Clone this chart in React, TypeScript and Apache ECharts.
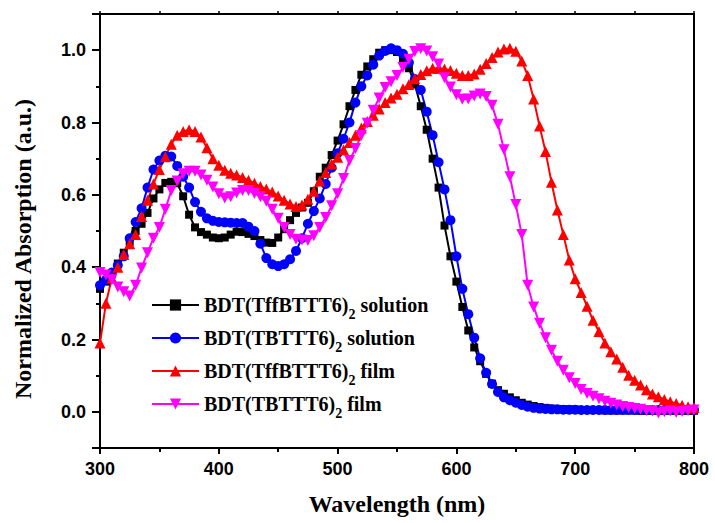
import React, { useEffect, useRef } from "react";
import * as echarts from "echarts";

// wavelength grid (nm), 5 nm steps from 300 to 800
const wavelengths: number[] = Array.from({ length: 101 }, (_, i) => 300 + 5 * i);

const seriesNames = [
  "BDT(TffBTTT6)2 solution",
  "BDT(TBTTT6)2 solution",
  "BDT(TffBTTT6)2 film",
  "BDT(TBTTT6)2 film",
];

const tffSolution = [
  0.34, 0.36, 0.38, 0.41, 0.44, 0.47, 0.50, 0.52, 0.55, 0.59,
  0.615, 0.633, 0.636, 0.632, 0.596, 0.545, 0.51, 0.497, 0.49, 0.482,
  0.48, 0.482, 0.49, 0.498, 0.497, 0.492, 0.486, 0.475, 0.468, 0.467,
  0.482, 0.505, 0.53, 0.55, 0.565, 0.578, 0.61, 0.65, 0.675, 0.71,
  0.75, 0.795, 0.845, 0.89, 0.932, 0.955, 0.975, 0.993, 1.0, 1.0,
  0.995, 0.975, 0.95, 0.905, 0.845, 0.78, 0.70, 0.62, 0.515, 0.43,
  0.36, 0.29, 0.225, 0.178, 0.14, 0.105, 0.078, 0.06, 0.05, 0.04,
  0.032, 0.025, 0.02, 0.016, 0.013, 0.011, 0.009, 0.008, 0.007, 0.006,
  0.006, 0.005, 0.005, 0.005, 0.005, 0.004, 0.004, 0.004, 0.004, 0.004,
  0.004, 0.003, 0.003, 0.003, 0.003, 0.003, 0.003, 0.003, 0.003, 0.003,
  0.003,
];

const tbSolution = [
  0.35, 0.365, 0.385, 0.405, 0.43, 0.48, 0.525, 0.563, 0.62, 0.67,
  0.695, 0.708, 0.706, 0.68, 0.65, 0.62, 0.58, 0.553, 0.535, 0.528,
  0.525, 0.524, 0.523, 0.522, 0.522, 0.512, 0.50, 0.465, 0.425, 0.408,
  0.403, 0.408, 0.422, 0.445, 0.48, 0.52, 0.555, 0.59, 0.63, 0.675,
  0.715, 0.755, 0.80, 0.855, 0.9, 0.93, 0.96, 0.985, 0.998, 1.005,
  1.0, 0.99, 0.966, 0.92, 0.89, 0.83, 0.765, 0.69, 0.615, 0.53,
  0.43, 0.34, 0.27, 0.205, 0.148, 0.108, 0.077, 0.055, 0.04, 0.032,
  0.025, 0.019, 0.014, 0.011, 0.009, 0.008, 0.007, 0.007, 0.006, 0.006,
  0.006, 0.005, 0.005, 0.005, 0.005, 0.005, 0.005, 0.005, 0.005, 0.005,
  0.005, 0.005, 0.005, 0.005, 0.005, 0.005, 0.005, 0.006, 0.006, 0.006,
  0.006,
];

const tffFilm = [
  0.19, 0.30, 0.37, 0.40, 0.435, 0.465, 0.49, 0.54, 0.585, 0.63,
  0.67, 0.705, 0.74, 0.765, 0.775, 0.78, 0.775, 0.76, 0.73, 0.70,
  0.682, 0.668, 0.66, 0.655, 0.648, 0.64, 0.632, 0.623, 0.616, 0.608,
  0.597, 0.585, 0.575, 0.568, 0.572, 0.588, 0.61, 0.638, 0.662, 0.685,
  0.704, 0.725, 0.745, 0.765, 0.785, 0.803, 0.82, 0.837, 0.855, 0.868,
  0.878, 0.893, 0.905, 0.921, 0.933, 0.943, 0.95, 0.95, 0.948, 0.944,
  0.936, 0.93, 0.93, 0.934, 0.947, 0.963, 0.98, 0.995, 1.003, 1.005,
  0.997, 0.97, 0.93, 0.865, 0.79, 0.72, 0.635, 0.558, 0.49, 0.42,
  0.368, 0.33, 0.292, 0.253, 0.222, 0.19, 0.166, 0.146, 0.123, 0.101,
  0.087, 0.074, 0.061, 0.049, 0.042, 0.034, 0.028, 0.023, 0.018, 0.014,
  0.012,
];

const tbFilm = [
  0.385, 0.378, 0.365, 0.345, 0.332, 0.32, 0.35, 0.398, 0.44, 0.48,
  0.51, 0.56, 0.612, 0.638, 0.658, 0.665, 0.665, 0.655, 0.64, 0.622,
  0.603, 0.591, 0.595, 0.605, 0.612, 0.612, 0.604, 0.595, 0.582, 0.56,
  0.535, 0.51, 0.49, 0.477, 0.475, 0.474, 0.487, 0.51, 0.537, 0.57,
  0.603, 0.645, 0.695, 0.728, 0.764, 0.798, 0.834, 0.868, 0.897, 0.913,
  0.93, 0.952, 0.975, 0.996, 1.004, 0.998, 0.982, 0.962, 0.924, 0.898,
  0.877, 0.864, 0.865, 0.873, 0.879, 0.872, 0.848, 0.795, 0.725, 0.65,
  0.573, 0.49, 0.35, 0.29, 0.245, 0.205, 0.17, 0.14, 0.115, 0.094,
  0.078, 0.062, 0.051, 0.043, 0.036, 0.029, 0.024, 0.019, 0.015, 0.012,
  0.009, 0.007, 0.004, 0.002, -0.003, 0.0, 0.002, -0.002, 0.001, 0.003,
  0.005,
];

const seriesValues = [tffSolution, tbSolution, tffFilm, tbFilm];
const seriesColors = ["#000000", "#0000ff", "#ff0000", "#ff00ff"];
const seriesSymbols = ["rect", "circle", "triangle", "triangle"];
const seriesSymbolSizes = [8, 10, 11, 11];
const seriesSymbolRotate = [0, 0, 0, 180];

const SERIF = "'Liberation Serif', 'Times New Roman', serif";
const SANS = "'Liberation Sans', Arial, sans-serif";

export default function App() {
  const ref = useRef<HTMLDivElement>(null);

  useEffect(() => {
    if (!ref.current) return;
    const chart = echarts.init(ref.current, null, { renderer: "svg" });

    const axisLineStyle = { color: "#000", width: 2 };

    const option: any = {
      animation: false,
      backgroundColor: "#fff",
      grid: { left: 100, right: 21, top: 14, bottom: 75, containLabel: false, outerBoundsMode: "none" },
      legend: {
        orient: "vertical",
        left: 146,
        top: 284,
        itemWidth: 47,
        itemHeight: 14,
        itemGap: 1,
        data: seriesNames,
        formatter: (name: string) => name.replace(")2", "){s|2}"),
        textStyle: {
          fontFamily: SERIF,
          fontWeight: "bold",
          fontSize: 20,
          color: "#000",
          lineHeight: 22,
          rich: {
            s: {
              fontFamily: SERIF,
              fontWeight: "bold",
              fontSize: 14,
              color: "#000",
              lineHeight: 14,
              padding: [18, 0, 0, 0],
            },
          },
        },
      },
      xAxis: [
        {
          type: "value",
          position: "bottom",
          min: 300,
          max: 800,
          interval: 100,
          axisLine: { show: true, onZero: false, lineStyle: axisLineStyle },
          axisTick: { show: true, inside: false, length: 6, lineStyle: axisLineStyle },
          minorTick: { show: true, splitNumber: 2, length: 4, lineStyle: axisLineStyle },
          splitLine: { show: false },
          minorSplitLine: { show: false },
          axisLabel: {
            margin: 12,
            fontFamily: SANS,
            fontWeight: "bold",
            fontSize: 18,
            color: "#000",
          },
          name: "Wavelength (nm)",
          nameLocation: "middle",
          nameGap: 44,
          nameTextStyle: { fontFamily: SERIF, fontWeight: "bold", fontSize: 24, color: "#000" },
        },
        {
          type: "value",
          position: "top",
          min: 300,
          max: 800,
          interval: 100,
          axisLine: { show: true, onZero: false, lineStyle: axisLineStyle },
          axisTick: { show: true, inside: false, length: 3, lineStyle: { color: "#000", width: 1.5 } },
          minorTick: { show: true, splitNumber: 2, length: 3, lineStyle: { color: "#000", width: 1.5 } },
          splitLine: { show: false },
          axisLabel: { show: false },
        },
      ],
      yAxis: [
        {
          type: "value",
          position: "left",
          min: -0.1,
          max: 1.1,
          splitNumber: 6,
          axisLine: { show: true, onZero: false, lineStyle: axisLineStyle },
          axisTick: { show: true, inside: false, length: 8, lineStyle: axisLineStyle },
          splitLine: { show: false },
          axisLabel: {
            margin: 14,
            fontFamily: SANS,
            fontWeight: "bold",
            fontSize: 18,
            color: "#000",
            showMinLabel: true,
            showMaxLabel: true,
            formatter: (v: number) => {
              const r = Math.round(v * 10);
              if (r % 2 !== 0) return "";
              return (r / 10).toFixed(1);
            },
          },
        },
        {
          type: "value",
          position: "left",
          min: -0.1,
          max: 1.1,
          interval: 0.1,
          axisLine: { show: false },
          axisTick: { show: true, inside: false, length: 4, lineStyle: axisLineStyle },
          splitLine: { show: false },
          axisLabel: { show: false },
        },
        {
          type: "value",
          position: "right",
          min: -0.1,
          max: 1.1,
          interval: 0.1,
          axisLine: { show: true, onZero: false, lineStyle: axisLineStyle },
          axisTick: { show: false },
          splitLine: { show: false },
          axisLabel: { show: false },
        },
      ],
      graphic: [
        {
          type: "text",
          x: 23,
          y: 249,
          rotation: Math.PI / 2,
          style: {
            text: "Normalized Absorption (a.u.)",
            fontFamily: SERIF,
            fontWeight: "bold",
            fontSize: 24,
            fill: "#000",
            textAlign: "center",
            textVerticalAlign: "middle",
          },
        },
      ],
      series: seriesNames.map((name, k) => ({
        name,
        type: "line",
        xAxisIndex: 0,
        yAxisIndex: 0,
        data: wavelengths.map((w, i) => [w, seriesValues[k][i]]),
        symbol: seriesSymbols[k],
        symbolSize: seriesSymbolSizes[k],
        symbolRotate: seriesSymbolRotate[k],
        showAllSymbol: true,
        lineStyle: { color: seriesColors[k], width: 2 },
        itemStyle: { color: seriesColors[k], borderWidth: 0 },
        clip: false,
      })),
    };

    chart.setOption(option);
    return () => chart.dispose();
  }, []);

  return (
    <div
      ref={ref}
      style={{ position: "fixed", left: 0, top: 0, width: 715, height: 523, background: "#fff" }}
    />
  );
}
